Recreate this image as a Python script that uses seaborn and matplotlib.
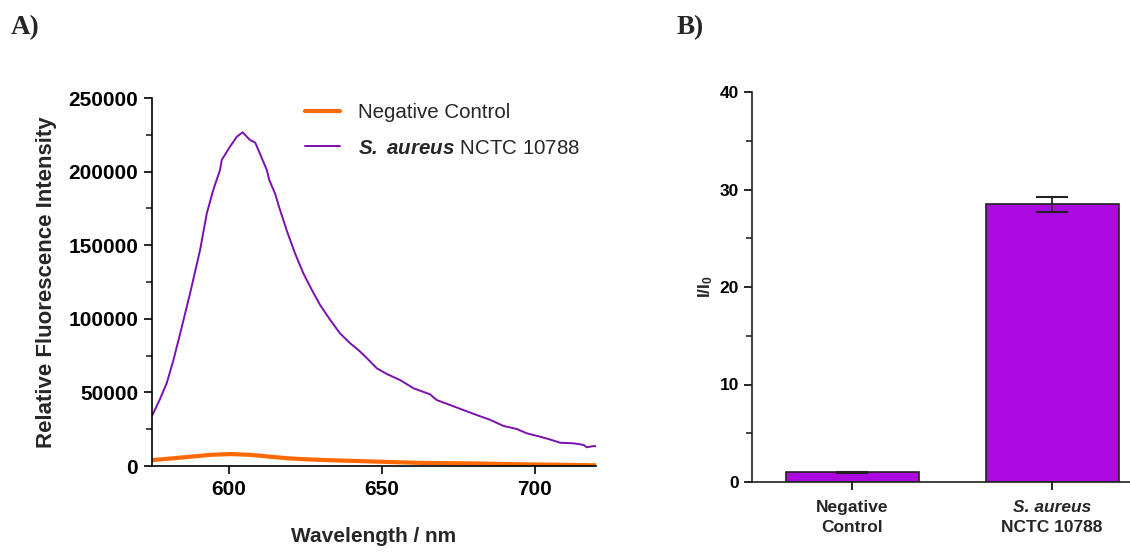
import numpy as np
import pandas as pd
import matplotlib
matplotlib.use("Agg")
import matplotlib.pyplot as plt
import seaborn as sns
from matplotlib.lines import Line2D
from matplotlib.ticker import MultipleLocator
import matplotlib.transforms as mtransforms

# ---------------- data ----------------
wavelength_sa = [575, 577.5, 579.8, 582, 584.2, 587.4, 590.7, 592.9, 595, 597.2, 597.8, 600.5,
                 602.7, 604.6, 607, 608.7, 610.5, 612.5, 613.3, 615.2, 616.8, 619, 621.7,
                 624.4, 627.2, 629.9, 633.2, 636.4, 639.7, 642.4, 645.2, 648.4, 651.7, 656,
                 660.4, 665.8, 668, 672.4, 676.7, 681.1, 685.5, 689.8, 694.2, 697.4, 701.8,
                 705, 708.3, 712.7, 716, 717, 719, 720]
intensity_sa = [34000, 45000, 56200, 72000, 90000, 117000, 146700, 171700, 187500, 201000,
                208000, 217000, 223700, 226700, 221500, 219700, 211000, 201000, 194300,
                185000, 174000, 160000, 144500, 131000, 119600, 109400, 99200, 90100, 83400,
                78800, 73200, 66400, 62500, 58400, 52800, 48700, 44800, 41400, 38000, 34600,
                31300, 27200, 25100, 22200, 19900, 18000, 15800, 15400, 14300, 12700, 13500,
                13500]

wavelength_nc = [575, 581.7, 588, 594.3, 600.6, 606.9, 613.2, 619.4, 625, 632, 640, 649.6,
                 656, 663.4, 672, 682, 691, 701, 710, 718.7, 720]
intensity_nc = [4000, 5200, 6400, 7600, 8100, 7600, 6400, 5200, 4600, 4000, 3500, 2900,
                2500, 2100, 1900, 1700, 1300, 1000, 800, 500, 500]

categories = ["Negative Control", "S. aureus NCTC 10788"]
ratio_mean = [1.0, 28.5]
ratio_err = [0.05, 0.77]

series_names = ["Negative Control", "S. aureus NCTC 10788"]

# ---------------- style ----------------
sns.set_theme(style="ticks")
plt.rcParams["font.family"] = ["Liberation Sans", "DejaVu Sans"]
plt.rcParams["mathtext.fontset"] = "custom"
plt.rcParams["mathtext.rm"] = "Liberation Sans"
plt.rcParams["mathtext.bf"] = "Liberation Sans:bold"
plt.rcParams["mathtext.it"] = "Liberation Sans:italic"
try:
    plt.rcParams["mathtext.bfit"] = "Liberation Sans:italic:bold"
except Exception:
    pass

orange = "#FF6A00"
purple_line = "#7A10B0"
bar_color = "#AA0ADF"

fig = plt.figure(figsize=(11.30, 5.52), dpi=100)
axA = fig.add_axes([152/1130, 86/552, 444/1130, 368/552])
axB = fig.add_axes([752/1130, 70/552, 400/1130, 390/552])

# ---------------- Panel A ----------------
dfA = pd.concat([
    pd.DataFrame({"wl": wavelength_nc, "I": intensity_nc, "s": series_names[0]}),
    pd.DataFrame({"wl": wavelength_sa, "I": intensity_sa, "s": series_names[1]}),
])
sns.lineplot(data=dfA[dfA.s == series_names[0]], x="wl", y="I", color=orange, lw=3.0,
             ax=axA, legend=False)
sns.lineplot(data=dfA[dfA.s == series_names[1]], x="wl", y="I", color=purple_line, lw=1.4,
             ax=axA, legend=False)
axA.set_xlim(575, 720)
axA.set_ylim(0, 250000)
axA.xaxis.set_major_locator(MultipleLocator(50))
axA.yaxis.set_major_locator(MultipleLocator(50000))
axA.yaxis.set_minor_locator(MultipleLocator(25000))
for sp in ["top", "right"]:
    axA.spines[sp].set_visible(False)
for sp in ["left", "bottom"]:
    axA.spines[sp].set_linewidth(1.2)
    axA.spines[sp].set_color("black")
axA.tick_params(axis="both", which="major", length=6, width=1.2, labelsize=15, colors="black",
                pad=4)
axA.tick_params(axis="y", which="minor", length=4, width=1.2, left=True)
for lab in axA.get_xticklabels() + axA.get_yticklabels():
    lab.set_fontweight("bold")
axA.set_xlabel("Wavelength / nm", fontsize=15, fontweight="bold", labelpad=20)
axA.set_ylabel("Relative Fluorescence Intensity", fontsize=16, fontweight="bold", labelpad=8)

handles = [Line2D([], [], color=orange, lw=3.0),
           Line2D([], [], color=purple_line, lw=1.4)]
labels = ["Negative Control", r"$\mathbfit{S.}$ $\mathbfit{aureus}$ NCTC 10788"]
leg = axA.legend(handles, labels, loc="upper left", bbox_to_anchor=(0.3446, 0.986),
                 frameon=False, fontsize=14.8, handlelength=1.7, handletextpad=0.88,
                 labelspacing=0.8, borderpad=0, borderaxespad=0)

# ---------------- Panel B ----------------
dfB = pd.DataFrame({"cat": categories, "val": ratio_mean})
sns.barplot(data=dfB, x="cat", y="val", color=bar_color, saturation=1, width=0.667,
            edgecolor="#222222", linewidth=1.2, ax=axB)
axB.errorbar(x=np.arange(len(categories)), y=ratio_mean, yerr=ratio_err, fmt="none",
             ecolor="#222222", elinewidth=1.3, capsize=11.5, capthick=1.5)
axB.set_xlim(-0.503, 1.5)
axB.set_ylim(0, 40)
axB.yaxis.set_major_locator(MultipleLocator(10))
axB.yaxis.set_minor_locator(MultipleLocator(5))
for sp in ["top", "right"]:
    axB.spines[sp].set_visible(False)
for sp in ["left", "bottom"]:
    axB.spines[sp].set_linewidth(1.2)
    axB.spines[sp].set_color("#222222")
axB.tick_params(axis="both", which="major", length=6, width=1.2, labelsize=12.5, colors="black")
axB.tick_params(axis="y", which="minor", length=4, width=1.2, left=True)
axB.set_xticks(range(len(categories)))
axB.set_xticklabels(["", ""])
for lab in axB.get_yticklabels():
    lab.set_fontweight("bold")
axB.set_xlabel("")
axB.set_ylabel(r"$\mathbf{I/I_0}$", fontsize=12.5, fontweight="bold", labelpad=3)

trans = mtransforms.blended_transform_factory(axB.transData, axB.transAxes)
tick_lines = [("Negative", "bold", "normal"), ("S. aureus", "bold", "italic")]
for i, (l1, fw, fs) in enumerate(tick_lines):
    axB.text(i, -0.045, l1, transform=trans, ha="center", va="top", fontsize=12.5,
             fontweight=fw, fontstyle=fs)
axB.text(0, -0.098, "Control", transform=trans, ha="center", va="top", fontsize=12.5,
         fontweight="bold")
axB.text(1, -0.098, "NCTC 10788", transform=trans, ha="center", va="top", fontsize=12.5,
         fontweight="bold")

# ---------------- panel letters ----------------
fig.text(11/1130, 1 - 28/552, "A)", fontsize=19.5, fontweight="bold",
         family=["Liberation Serif", "DejaVu Serif"], va="center", ha="left")
fig.text(677/1130, 1 - 28/552, "B)", fontsize=19.5, fontweight="bold",
         family=["Liberation Serif", "DejaVu Serif"], va="center", ha="left")

fig.savefig("out.png", dpi=100)
